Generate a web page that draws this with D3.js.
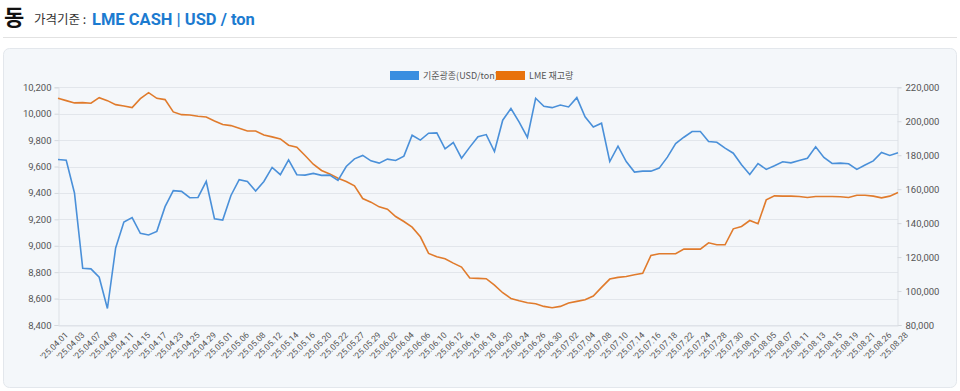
<!DOCTYPE html>
<html><head><meta charset="utf-8">
<script src="https://cdn.jsdelivr.net/npm/d3@7"></script>
<style>
html,body{margin:0;padding:0;background:#fff;}
svg{display:block;font-family:"Noto Sans CJK KR","Noto Sans",sans-serif;}
</style></head><body>
<svg id="c" width="960" height="391"></svg>
<script>
const dates = [
"25.04.01","25.04.02","25.04.03","25.04.04","25.04.07","25.04.08","25.04.09","25.04.10","25.04.11","25.04.14",
"25.04.15","25.04.16","25.04.17","25.04.22","25.04.23","25.04.24","25.04.25","25.04.28","25.04.29","25.04.30",
"25.05.01","25.05.02","25.05.06","25.05.07","25.05.08","25.05.09","25.05.12","25.05.13","25.05.14","25.05.15",
"25.05.16","25.05.19","25.05.20","25.05.21","25.05.22","25.05.23","25.05.27","25.05.28","25.05.29","25.05.30",
"25.06.02","25.06.03","25.06.04","25.06.05","25.06.06","25.06.09","25.06.10","25.06.11","25.06.12","25.06.13",
"25.06.16","25.06.17","25.06.18","25.06.19","25.06.20","25.06.23","25.06.24","25.06.25","25.06.26","25.06.27",
"25.06.30","25.07.01","25.07.02","25.07.03","25.07.04","25.07.07","25.07.08","25.07.09","25.07.10","25.07.11",
"25.07.14","25.07.15","25.07.16","25.07.17","25.07.18","25.07.21","25.07.22","25.07.23","25.07.24","25.07.25",
"25.07.28","25.07.29","25.07.30","25.07.31","25.08.01","25.08.04","25.08.05","25.08.06","25.08.07","25.08.08",
"25.08.11","25.08.12","25.08.13","25.08.14","25.08.15","25.08.18","25.08.19","25.08.20","25.08.21","25.08.22",
"25.08.26","25.08.27","25.08.28"];
const priceUSD = [
9653,9648,9400,8830,8825,8762,8525,8983,9180,9213,
9094,9082,9109,9296,9417,9412,9364,9366,9487,9205,
9195,9381,9500,9487,9414,9487,9593,9538,9651,9538,
9535,9548,9533,9535,9495,9600,9658,9684,9643,9626,
9656,9646,9679,9837,9800,9852,9855,9734,9782,9663,
9747,9825,9842,9714,9951,10039,9936,9820,10117,10056,
10046,10066,10051,10122,9976,9900,9928,9638,9754,9638,
9558,9565,9565,9588,9671,9774,9822,9865,9865,9789,
9784,9739,9701,9613,9540,9623,9578,9606,9636,9628,
9646,9663,9749,9669,9623,9626,9621,9578,9611,9643,
9706,9684,9704];
const stockTon = [
213500,212150,210800,211000,210600,213900,212150,209800,209000,208050,
213350,216850,213500,212750,205500,203900,203700,202950,202550,200200,
198050,197450,195900,194300,194300,191950,190800,189600,185900,184700,
179800,174700,171000,169000,166450,164500,161950,154500,152350,149600,
148250,143900,140950,137650,131950,122150,120200,119000,116450,114100,
107650,107450,107250,103500,99000,95650,94300,93100,92550,90950,
90200,90950,92950,93900,94900,97050,102150,107050,108050,108600,
109600,110400,120950,121950,121950,121950,124700,124700,124700,128400,
127250,127250,136650,138050,141550,139600,153700,156050,155900,155900,
155700,155100,155700,155700,155700,155500,155100,156450,156450,155900,
154900,155900,158050];
const leftTicks = [8400,8600,8800,9000,9200,9400,9600,9800,10000,10200];
const rightTicks = [80000,100000,120000,140000,160000,180000,200000,220000];
const seriesNames = ["기준광종(USD/ton)","LME 재고량"];
const colors = ["#4a90d9","#e07b2c"];
const legendColors = ["#3a8ee0","#e8720c"];

const svg = d3.select("#c");
// header
svg.append("text").attr("x",4).attr("y",25).attr("font-size",22).attr("font-weight",700).attr("fill","#111").text("동");
svg.append("text").attr("x",34).attr("y",24).attr("font-size",12.5).attr("fill","#333").text("가격기준 :");
svg.append("text").attr("x",92).attr("y",25).attr("font-size",16.5).attr("font-weight",700).attr("fill","#1c7bd0")
  .attr("font-family","Roboto,'Noto Sans',sans-serif").text("LME CASH | USD / ton");
svg.append("line").attr("x1",3).attr("x2",957).attr("y1",37.5).attr("y2",37.5).attr("stroke","#e2e2e2");
// card
svg.append("rect").attr("x",3.5).attr("y",48.5).attr("width",953).attr("height",339).attr("rx",6)
  .attr("fill","#f4f7fa").attr("stroke","#e3e7ec");

const L=58,R=898,T=87.3,B=325;
const x = d3.scalePoint().domain(dates).range([L,R]);
const yL = d3.scaleLinear().domain([8400,10200]).range([B,T]);
const yR = d3.scaleLinear().domain([80000,220000]).range([B,T]);

// grid
svg.append("g").selectAll("line").data(leftTicks).join("line")
  .attr("x1",L).attr("x2",R).attr("y1",d=>Math.round(yL(d))+0.5).attr("y2",d=>Math.round(yL(d))+0.5)
  .attr("stroke","#e2e6eb");

const fmt = d3.format(",");
const gl = svg.append("g").attr("transform",`translate(${L+0.5},0)`)
  .call(d3.axisLeft(yL).tickValues(leftTicks).tickFormat(fmt).tickSize(4).tickPadding(3));
const gr = svg.append("g").attr("transform",`translate(${R-0.5},0)`)
  .call(d3.axisRight(yR).tickValues(rightTicks).tickFormat(fmt).tickSize(4).tickPadding(4));
[gl,gr].forEach(g=>{
  g.select(".domain").attr("stroke","#dde1e6");
  g.selectAll(".tick line").attr("stroke","#d5d9de");
  g.selectAll(".tick text").attr("font-size",9.5).attr("fill","#555").attr("font-family","Roboto,'Noto Sans',sans-serif");
});
const gx = svg.append("g").attr("transform",`translate(0,${B+0.5})`)
  .call(d3.axisBottom(x).tickValues(dates.filter((d,i)=>i%2===0)).tickFormat(d=>"'"+d).tickSize(0).tickPadding(6));
gx.select(".domain").attr("stroke","#dde1e6");
gx.selectAll(".tick text").attr("font-size",8.5).attr("fill","#555").attr("font-family","Roboto,'Noto Sans',sans-serif")
  .attr("text-anchor","end").attr("dy","0.3em").attr("transform","translate(4,4) rotate(-45)");

// lines
const lineL = d3.line().x((d,i)=>x(dates[i])).y(d=>yL(d));
const lineR = d3.line().x((d,i)=>x(dates[i])).y(d=>yR(d));
svg.append("path").datum(stockTon).attr("d",lineR).attr("fill","none").attr("stroke",colors[1]).attr("stroke-width",1.6);
svg.append("path").datum(priceUSD).attr("d",lineL).attr("fill","none").attr("stroke",colors[0]).attr("stroke-width",1.6);

// legend
const lg = svg.append("g");
const lx = [390,496];
seriesNames.forEach((n,i)=>{
  lg.append("rect").attr("x",lx[i]).attr("y",71).attr("width",29).attr("height",9).attr("fill",legendColors[i]);
  lg.append("text").attr("x",lx[i]+33).attr("y",79).attr("font-size",9).attr("fill","#555").text(n);
});
</script>
</body></html>
